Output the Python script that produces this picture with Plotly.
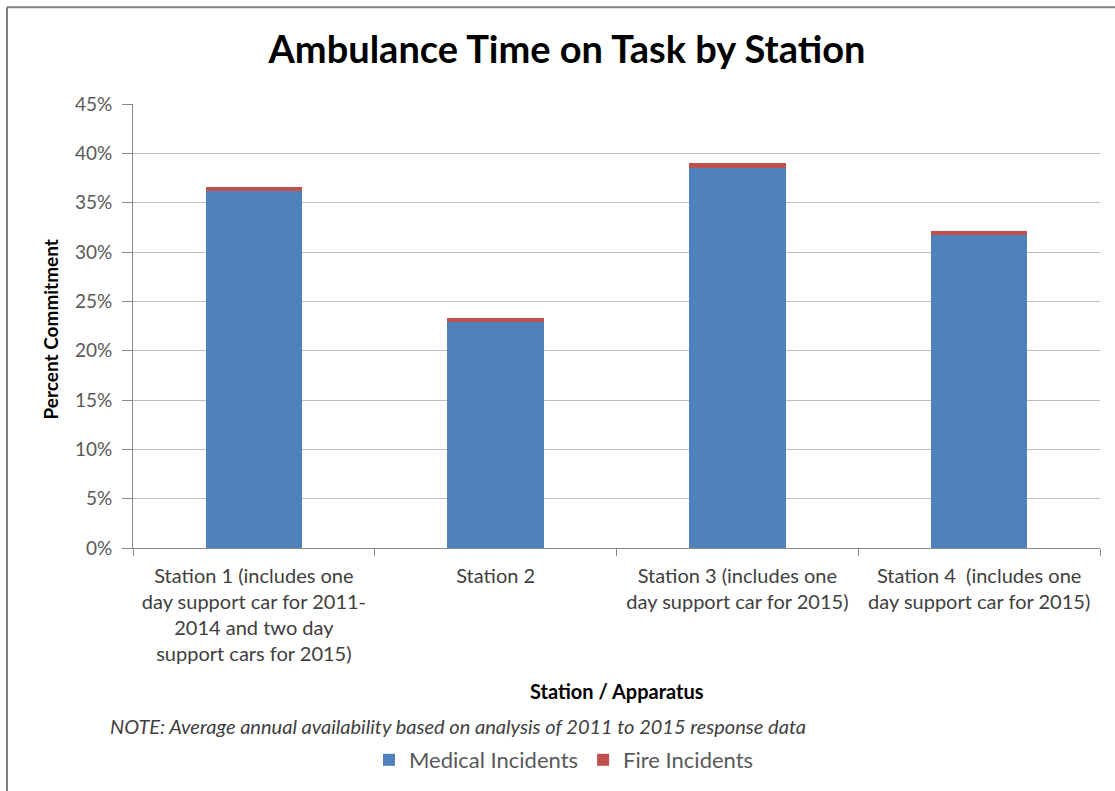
import plotly.graph_objects as go

categories = [
    "Station 1 (includes one<br>day support car for 2011-<br>2014 and two day<br>support cars for 2015)",
    "Station 2",
    "Station 3 (includes one<br>day support car for 2015)",
    "Station 4  (includes one<br>day support car for 2015)",
]
medical = [0.3615, 0.229, 0.385, 0.3175]
fire = [0.0045, 0.004, 0.005, 0.004]
y_ticks = [0, 0.05, 0.10, 0.15, 0.20, 0.25, 0.30, 0.35, 0.40, 0.45]

FONT = "Lato"
L, R, T, B = 133, 15, 104, 242
W, H = 1115, 791
pw, ph = W - L - R, H - T - B

def px(x):
    return (x - L) / pw

def py(y):
    return (H - B - y) / ph

fig = go.Figure()
fig.add_trace(go.Bar(x=categories, y=medical, name="Medical Incidents",
                     marker=dict(color="#4F81BD", line=dict(width=0))))
fig.add_trace(go.Bar(x=categories, y=fire, name="Fire Incidents",
                     marker=dict(color="#C0504D", line=dict(width=0))))

fig.update_layout(
    width=W, height=H,
    barmode="stack", bargap=0.6,
    plot_bgcolor="white", paper_bgcolor="white",
    margin=dict(l=L, r=R, t=T, b=B),
    font=dict(family=FONT, size=15, color="#595959"),
    title=dict(text="<b>Ambulance Time on Task by Station</b>", x=px(567), xanchor="center",
               y=1 - 50 / H, yanchor="middle", xref="paper", yref="container",
               font=dict(family=FONT, size=38, color="black")),
    legend=dict(orientation="h", x=px(564), xanchor="center", y=py(760), yanchor="middle",
                font=dict(family=FONT, size=22, color="#595959"), traceorder="normal",
                itemwidth=30, entrywidth=0),
    showlegend=True,
)
fig.update_xaxes(showline=True, linecolor="#888888", linewidth=1,
                 ticks="outside", tickson="boundaries", ticklen=7, tickcolor="#888888",
                 ticklabelstandoff=10,
                 tickfont=dict(family=FONT, size=20, color="#404040"), showgrid=False)
fig.update_yaxes(range=[0, 0.45], tickvals=y_ticks, tickformat=".0%",
                 showline=True, linecolor="#888888", linewidth=1,
                 ticks="outside", ticklen=10, tickcolor="#888888",
                 ticklabelstandoff=6,
                 gridcolor="#BEBEBE", gridwidth=1, zeroline=False,
                 tickfont=dict(family=FONT, size=19, color="#595959"))

fig.add_annotation(text="<b>Station / Apparatus</b>", x=px(617), y=py(692), xref="paper", yref="paper",
                   xanchor="center", yanchor="middle",
                   showarrow=False, font=dict(family=FONT, size=20, color="black"))
fig.add_annotation(text="<i>NOTE: Average annual availability based on analysis of 2011 to 2015 response data</i>",
                   x=px(458), y=py(727), xref="paper", yref="paper", showarrow=False,
                   xanchor="center", yanchor="middle",
                   font=dict(family=FONT, size=20, color="#404040"))
fig.add_annotation(text="<b>Percent Commitment</b>", x=px(50), y=py(330), xref="paper", yref="paper",
                   xanchor="center", yanchor="middle",
                   showarrow=False, textangle=-90, font=dict(family=FONT, size=19, color="black"))

# outer chart border (left and top visible)
fig.add_shape(type="line", xref="paper", yref="paper", x0=px(7), x1=px(7), y0=py(7), y1=py(800),
              line=dict(color="#808080", width=2))
fig.add_shape(type="line", xref="paper", yref="paper", x0=px(7), x1=px(1120), y0=py(7), y1=py(7),
              line=dict(color="#808080", width=2))

fig.write_html("out.html")
